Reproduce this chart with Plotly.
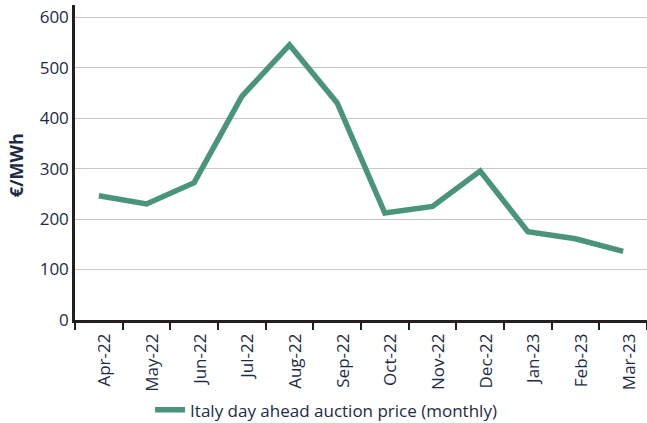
import plotly.graph_objects as go

months = ["Apr-22", "May-22", "Jun-22", "Jul-22", "Aug-22", "Sep-22",
          "Oct-22", "Nov-22", "Dec-22", "Jan-23", "Feb-23", "Mar-23"]
price = [246, 230, 272, 443, 545, 430, 212, 225, 295, 175, 161, 136]
series_name = "Italy day ahead auction price (monthly)"
y_ticks = [0, 100, 200, 300, 400, 500, 600]

text_color = "#1c2b45"
line_color = "#4a957a"

fig = go.Figure()
fig.add_trace(go.Scatter(x=months, y=price, mode="lines", name=series_name,
                         line=dict(color=line_color, width=5.5)))

fig.update_layout(
    width=647, height=423,
    margin=dict(l=75, r=0, t=5, b=103, autoexpand=False),
    paper_bgcolor="white", plot_bgcolor="white",
    font=dict(family="Open Sans", size=17, color=text_color),
    showlegend=True,
    legend=dict(orientation="h", xref="container", yref="container",
                x=0.504, xanchor="center", y=0.03, yanchor="middle",
                font=dict(size=17, color=text_color)),
    xaxis=dict(type="category", showgrid=False, showline=True, linecolor="#231f20", linewidth=2.5,
               ticks="outside", tickson="boundaries", ticklen=7, tickwidth=2, tickcolor="#231f20",
               tickangle=-90, automargin=False, range=[-0.5, 11.5],
               ticklabelshift=6, ticklabelstandoff=4,
               tickfont=dict(size=17, color=text_color)),
    yaxis=dict(range=[0, 624], tickvals=y_ticks, showgrid=True, gridcolor="#c8c8c8", gridwidth=1,
               showline=True, linecolor="#231f20", linewidth=2.5, ticks="", zeroline=False,
               automargin=False, tickfont=dict(size=17, color=text_color)),
    annotations=[dict(text="<b>€/MWh</b>", xref="paper", yref="paper", x=-59.5/572, y=0.49,
                      xanchor="center", yanchor="middle", textangle=-90, showarrow=False,
                      font=dict(size=18, color=text_color))],
)

fig.write_html("out.html", config={"displayModeBar": False},
               post_script="document.body.style.margin='0';")
